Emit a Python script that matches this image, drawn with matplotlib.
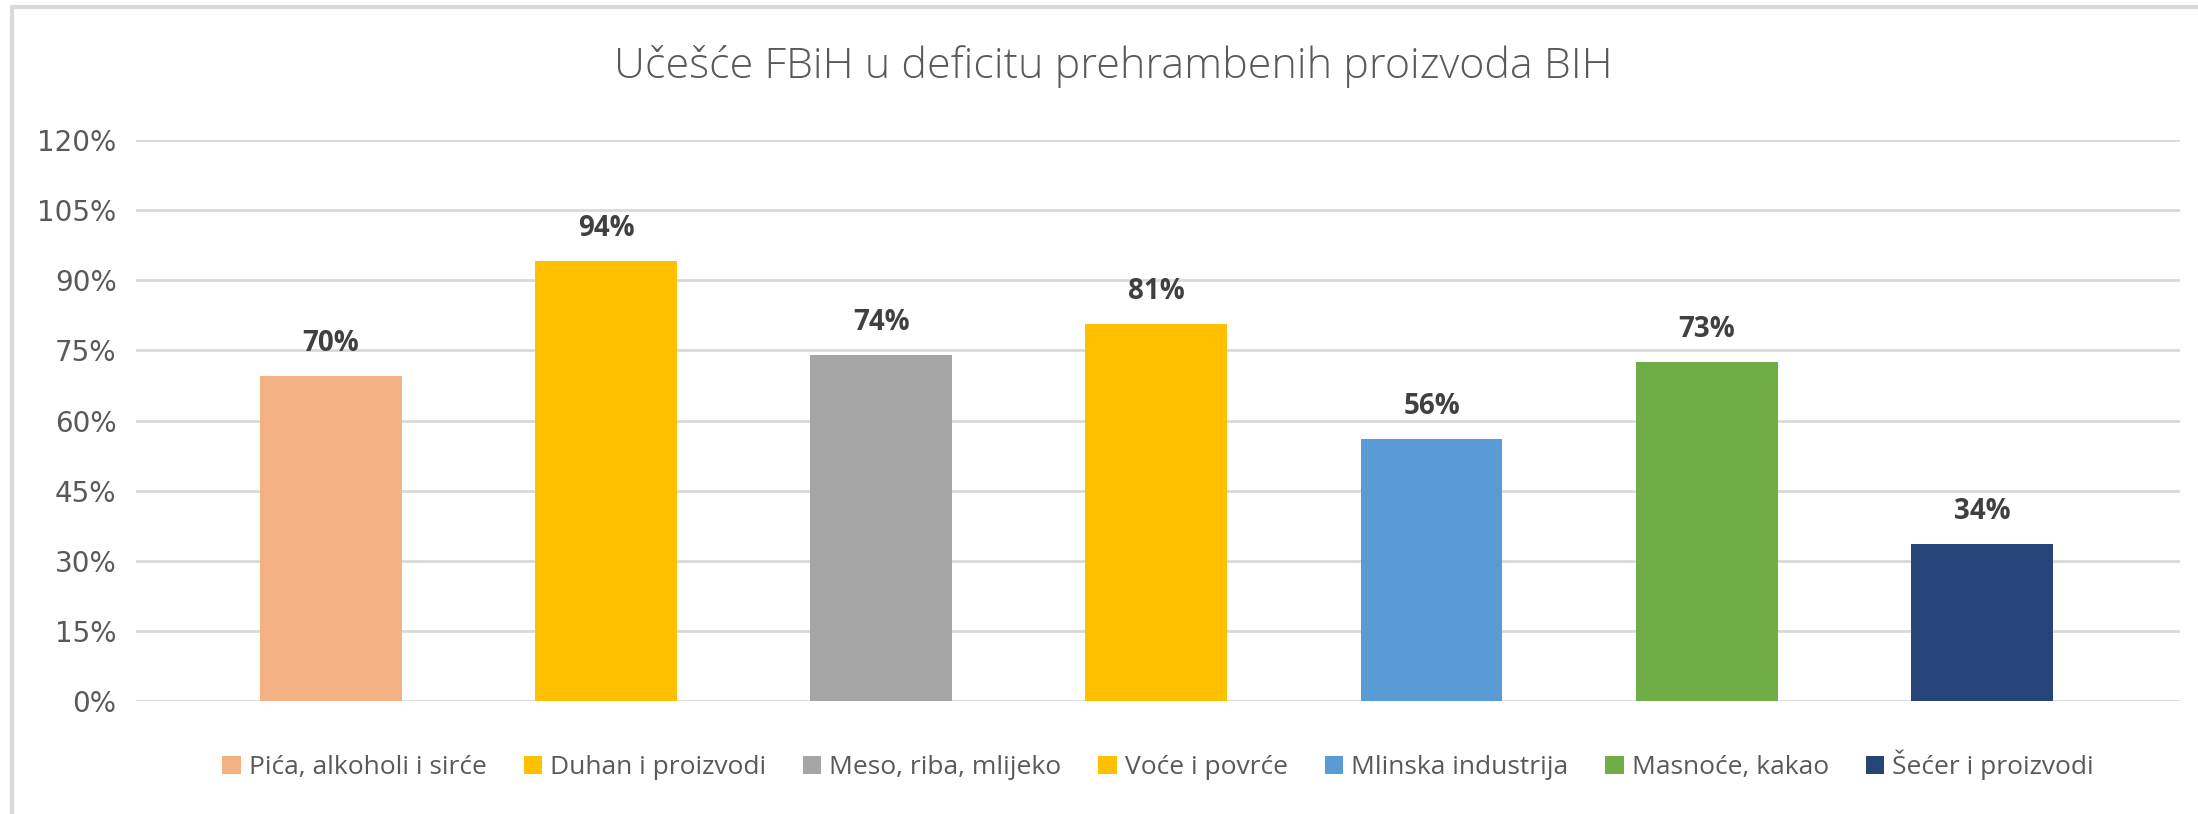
import matplotlib
matplotlib.use("Agg")
import matplotlib.pyplot as plt
from matplotlib.patches import Rectangle
from matplotlib.ticker import FuncFormatter, MultipleLocator

categories = ["Pića, alkoholi i sirće", "Duhan i proizvodi", "Meso, riba, mlijeko",
              "Voće i povrće", "Mlinska industrija", "Masnoće, kakao", "Šećer i proizvodi"]
values = [0.696, 0.942, 0.741, 0.807, 0.561, 0.726, 0.336]
colors = ["#F4B183", "#FFC000", "#A5A5A5", "#FFC000", "#5B9BD5", "#70AD47", "#264478"]

plt.rcParams['font.family'] = ['Open Sans', 'DejaVu Sans']

W, H = 2198, 814
fig = plt.figure(figsize=(W / 100, H / 100), dpi=100)
ax = fig.add_axes([136 / W, 1 - 701 / H, (2180 - 136) / W, (701 - 140) / H])

for i, (cat, v, c) in enumerate(zip(categories, values, colors)):
    ax.bar(i, v, width=0.515, color=c, label=cat, zorder=3)
    ax.text(i, v + 0.038, "{:.0f}%".format(v * 100), ha="center", va="bottom",
            fontsize=20, fontweight="bold", color="#404040")

ax.set_ylim(0, 1.2)
ax.set_xlim(-0.708, 6.72)
ax.yaxis.set_major_locator(MultipleLocator(0.15))
ax.yaxis.set_major_formatter(FuncFormatter(lambda y, p: "{:.0f}%".format(y * 100)))
ax.grid(axis="y", color="#D9D9D9", linewidth=2, zorder=0)
ax.set_xticks([])
for s in ax.spines.values():
    s.set_visible(False)
ax.tick_params(axis="y", length=0, pad=14, labelsize=20, labelcolor="#595959")
for lab in ax.get_yticklabels():
    lab.set_family("DejaVu Sans")

fig.text(1113 / W, 1 - 67 / H, "Učešće FBiH u deficitu prehrambenih proizvoda BIH",
         ha="center", va="center", fontsize=31, color="#595959", fontweight="light")

fig.legend(loc="center", bbox_to_anchor=(1158 / W, 1 - 765 / H), ncol=7, frameon=False,
           fontsize=19, labelcolor="#595959", handlelength=0.7, handleheight=0.7,
           handletextpad=0.3, columnspacing=1.4)

# chart frame (only top and left visible in the crop)
fig.add_artist(Rectangle((12 / W, -0.1), 1.2, 1.1 - 7 / H, transform=fig.transFigure,
                         fill=False, edgecolor="#D9D9D9", linewidth=3))

fig.savefig("out.png", dpi=100)
